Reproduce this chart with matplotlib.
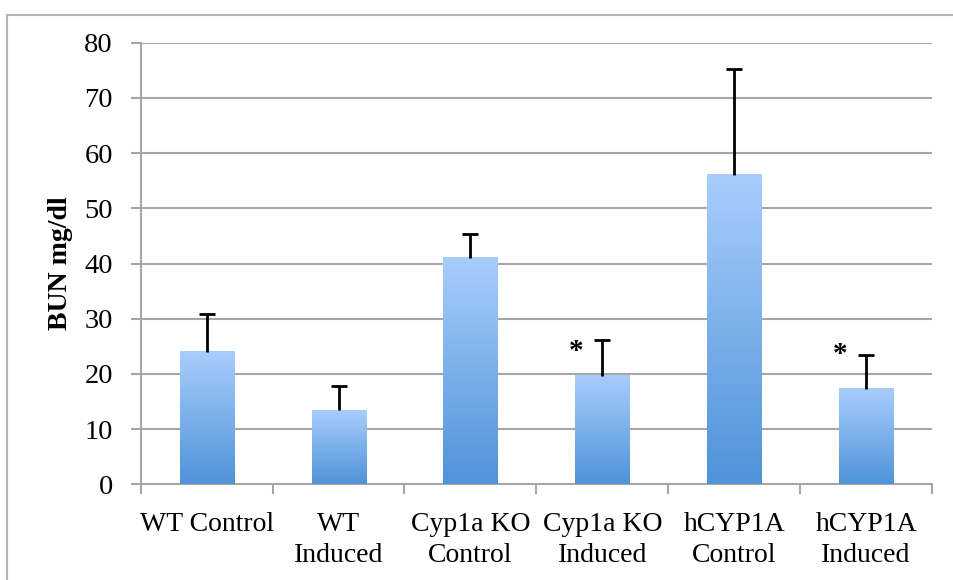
import numpy as np
import matplotlib
matplotlib.use("Agg")
import matplotlib.pyplot as plt
from matplotlib.colors import LinearSegmentedColormap
from matplotlib.lines import Line2D

# BUN measurements per group (mg/dl), mean and upper SD
groups = ["WT Control", "WT\nInduced", "Cyp1a KO\nControl", "Cyp1a KO\nInduced",
          "hCYP1A\nControl", "hCYP1A\nInduced"]
means = [24.0, 13.4, 41.0, 19.7, 56.0, 17.3]
errors = [6.8, 4.5, 4.3, 6.5, 19.2, 6.1]
significant = [False, False, False, True, False, True]
y_ticks = [0, 10, 20, 30, 40, 50, 60, 70, 80]

plt.rcParams["font.family"] = ["Liberation Serif", "DejaVu Serif"]

fig = plt.figure(figsize=(9.54, 5.80), dpi=100)
ax = fig.add_axes([0.1475, 0.1650, 0.8295, 0.7613])

x = np.arange(len(groups))
bars = ax.bar(x, means, width=0.41, color="none", edgecolor="none", zorder=3)

# vertical blue gradient inside every bar
grad_cmap = LinearSegmentedColormap.from_list("blue_grad", ["#4f93d9", "#a8cdfc"])
gradient = np.linspace(0, 1, 256).reshape(-1, 1)
for b in bars:
    x0, y0 = b.get_x(), b.get_y()
    w, h = b.get_width(), b.get_height()
    ax.imshow(gradient, cmap=grad_cmap, origin="lower", aspect="auto",
              extent=(x0, x0 + w, y0, y0 + h), zorder=3, interpolation="bilinear")

# upper-only error bars with a cap on top
tops = np.array(means) + np.array(errors)
ax.vlines(x, means, tops, color="black", linewidth=2.0, zorder=4)
ax.plot(x, tops, linestyle="none", marker="_", markersize=12, markeredgewidth=2.0,
        color="black", zorder=4)

# significance markers
star_x_offset = -0.2
star_levels = [24.0, 23.5]
for xi, lvl in zip(x[np.array(significant)], star_levels):
    ax.text(xi + star_x_offset, lvl, "*", ha="center", va="center",
            fontsize=21, fontweight="bold", zorder=5)

ax.set_xlim(-0.5, len(groups) - 0.5)
ax.set_ylim(0, 80)
ax.set_yticks(y_ticks)
ax.set_yticklabels([str(t) for t in y_ticks], fontsize=20.5)
ax.yaxis.grid(True, color="#a6a6a6", linewidth=1.5, zorder=0)
ax.set_axisbelow(True)

ax.set_xticks(x)
ax.set_xticklabels(groups, fontsize=20, linespacing=1.3, va="top")
ax.set_xticks(np.arange(len(groups) + 1) - 0.5, minor=True)
ax.tick_params(axis="x", which="major", length=0, pad=20)
ax.tick_params(axis="x", which="minor", length=7, width=1.5, color="#a6a6a6")
ax.tick_params(axis="y", length=7, width=1.5, color="#a6a6a6", pad=13)

for side in ["top", "right"]:
    ax.spines[side].set_visible(False)
for side in ["left", "bottom"]:
    ax.spines[side].set_color("#a6a6a6")
    ax.spines[side].set_linewidth(1.5)

ax.set_ylabel("BUN mg/dl", fontsize=20, fontweight="bold", labelpad=8)

# outer chart frame
frame_color = "#b4b4b4"
fig.add_artist(Line2D([7 / 954, 7 / 954], [0, 1 - 15 / 580], transform=fig.transFigure,
                      color=frame_color, linewidth=1.5))
fig.add_artist(Line2D([7 / 954, 1], [1 - 15 / 580, 1 - 15 / 580], transform=fig.transFigure,
                      color=frame_color, linewidth=1.5))

fig.savefig("out.png", dpi=100)
